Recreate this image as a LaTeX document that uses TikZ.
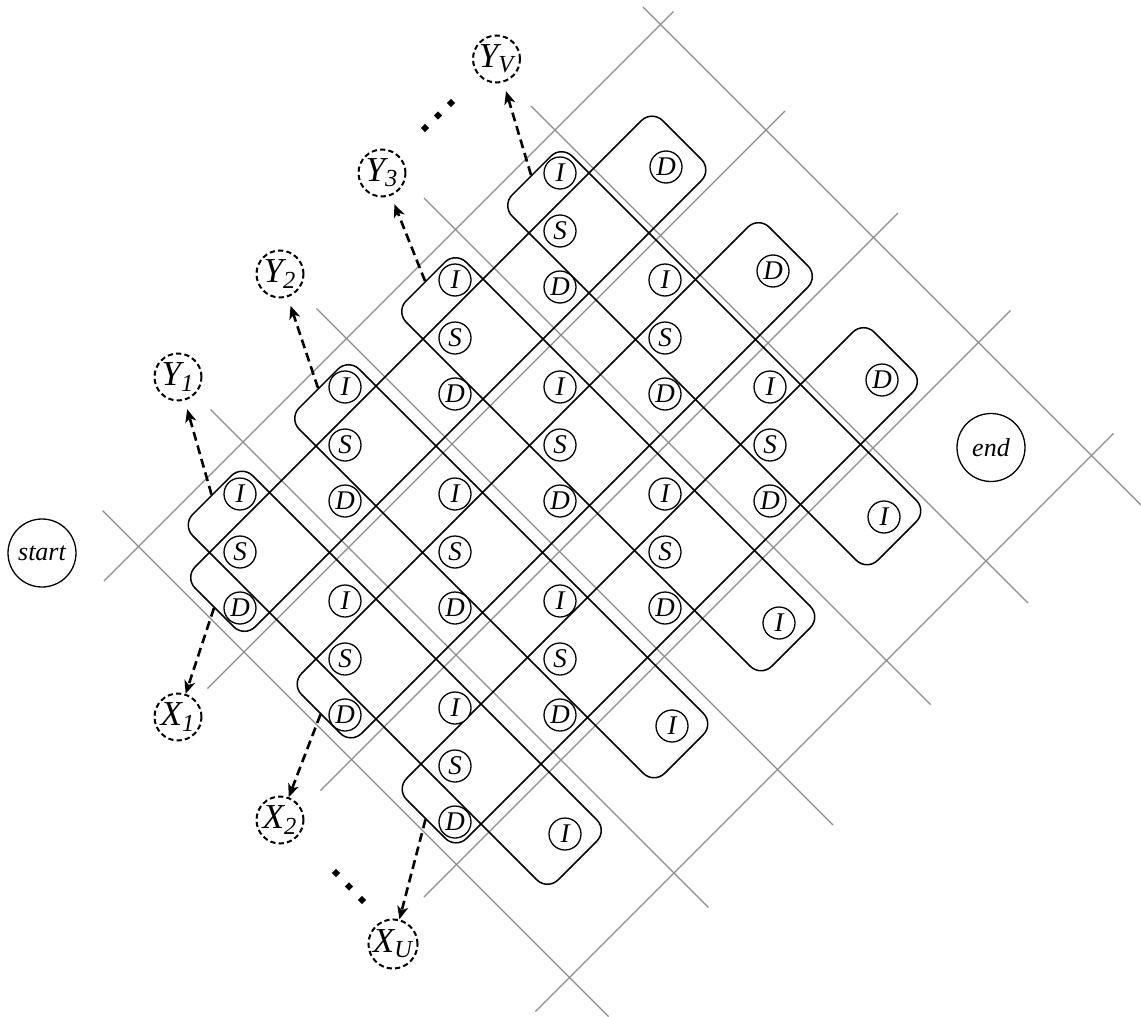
\documentclass[tikz,border=0pt]{standalone}
\usepackage{fontspec}
\setmainfont{Liberation Serif}
\usetikzlibrary{arrows.meta,shapes.geometric}
\begin{document}
\begin{tikzpicture}[x=0.5pt,y=-0.5pt,
  gridline/.style={draw=black!45,line width=0.6pt},
  st/.style={circle,draw,fill=white,line width=0.65pt,minimum size=16pt,inner sep=0pt,font=\fontsize{13.5}{13.5}\selectfont\itshape},
  term/.style={circle,draw,fill=white,line width=0.65pt,minimum size=34pt,inner sep=0pt,font=\fontsize{13}{13}\selectfont\itshape},
  lab/.style={circle,draw,line width=1pt,dash pattern=on 2.6pt off 1.6pt,minimum size=23.5pt,inner sep=0pt,font=\fontsize{17.5}{17.5}\selectfont\itshape},
  grp/.style={draw,rounded corners=7.5pt,line width=0.75pt,minimum height=42.4pt,inner sep=0pt},
  ygrp/.style={grp,minimum width=258.4pt,rotate=-45},
  xgrp/.style={grp,minimum width=330.6pt,rotate=45},
  link/.style={line width=1.3pt,dash pattern=on 4.5pt off 2.5pt,-{Stealth[length=6.5pt,width=5.5pt,inset=1.8pt]}},
  dotd/.style={diamond,fill,inner sep=0pt,minimum size=4.2pt}
]
\useasboundingbox (0,0) rectangle (1141,1017);

% grid lines (down-right)
\draw[gridline] (102.5,510.5) -- (608.5,1016.5);
\draw[gridline] (210.5,409.5) -- (708.5,907.5);
\draw[gridline] (316.5,308.5) -- (833,825);
\draw[gridline] (424,198) -- (930.5,704.5);
\draw[gridline] (531,106) -- (1028,603);
\draw[gridline] (643,7) -- (1141,505);
% grid lines (up-right)
\draw[gridline] (104,581) -- (673.5,11.5);
\draw[gridline] (207.5,688.5) -- (785,111);
\draw[gridline] (320.5,790.5) -- (898,213);
\draw[gridline] (424,897) -- (1010.5,310.5);
\draw[gridline] (535.5,1011.5) -- (1113.5,433.5);

% group rectangles
\node[ygrp] (ry1) at (394.75,677.75) {};
\node[ygrp] (ry2) at (501.25,571.25) {};
\node[ygrp] (ry3) at (608.25,464.25) {};
\node[ygrp] (ryv) at (714.25,358.25) {};
\node[xgrp] (rx1) at (448.25,373.75) {};
\node[xgrp] (rx2) at (554.75,480.25) {};
\node[xgrp] (rxu) at (659.75,585.25) {};

% states
\node[st] (i11) at (240,494) {I};
\node[st] (s11) at (240,552) {S};
\node[st] (d11) at (240,608) {D};
\node[st] (i12) at (345,387) {I};
\node[st] (s12) at (345,445) {S};
\node[st] (d12) at (345,501) {D};
\node[st] (i13) at (455,280) {I};
\node[st] (s13) at (455,338) {S};
\node[st] (d13) at (455,394) {D};
\node[st] (i14) at (560,173) {I};
\node[st] (s14) at (560,231) {S};
\node[st] (d14) at (560,287) {D};

\node[st] (i21) at (345,601) {I};
\node[st] (s21) at (345,659) {S};
\node[st] (d21) at (345,715) {D};
\node[st] (i22) at (455,494) {I};
\node[st] (s22) at (455,552) {S};
\node[st] (d22) at (455,608) {D};
\node[st] (i23) at (560,387) {I};
\node[st] (s23) at (560,445) {S};
\node[st] (d23) at (560,501) {D};
\node[st] (i24) at (665,280) {I};
\node[st] (s24) at (665,338) {S};
\node[st] (d24) at (665,394) {D};

\node[st] (i31) at (455,708) {I};
\node[st] (s31) at (455,766) {S};
\node[st] (d31) at (455,822) {D};
\node[st] (i32) at (560,601) {I};
\node[st] (s32) at (560,659) {S};
\node[st] (d32) at (560,715) {D};
\node[st] (i33) at (665,494) {I};
\node[st] (s33) at (665,552) {S};
\node[st] (d33) at (665,608) {D};
\node[st] (i34) at (770,387) {I};
\node[st] (s34) at (770,445) {S};
\node[st] (d34) at (770,501) {D};

% end-of-group states
\node[st] (ie1) at (565,834) {I};
\node[st] (ie2) at (672,726) {I};
\node[st] (ie3) at (779,623) {I};
\node[st] (iev) at (884,517) {I};
\node[st] (de1) at (666,167) {D};
\node[st] (de2) at (773,271) {D};
\node[st] (deu) at (882,380) {D};

% terminals
\node[term] (start) at (42,553) {start};
\node[term] (end) at (991,447.5) {end};

% sequence labels
\node[lab] (y1) at (178,377) {Y\textsubscript{1}};
\node[lab] (y2) at (280,274) {Y\textsubscript{2}};
\node[lab] (y3) at (382,173) {Y\textsubscript{3}};
\node[lab] (yv) at (496.5,59) {Y\textsubscript{V}};
\node[lab] (x1) at (178,717) {X\textsubscript{1}};
\node[lab] (x2) at (280,820) {X\textsubscript{2}};
\node[lab] (xu) at (393,944) {X\textsubscript{U}};

% connectors
\draw[link,shorten >=4.5pt] (ry1.west) -- (y1);
\draw[link,shorten >=4.5pt] (ry2.west) -- (y2);
\draw[link,shorten >=4.5pt] (ry3.west) -- (y3);
\draw[link,shorten >=4.5pt] (ryv.west) -- (yv);
\draw[link] (rx1.west) -- (x1);
\draw[link] (rx2.west) -- (x2);
\draw[link] (rxu.west) -- (xu);

% ellipsis dots
\node[dotd] (ya) at (425,128) {};
\node[dotd] (yb) at (438,115.5) {};
\node[dotd] (yc) at (451,103) {};
\node[dotd] (xa) at (336,873) {};
\node[dotd] (xb) at (349,886.5) {};
\node[dotd] (xc) at (362,900) {};
\end{tikzpicture}
\end{document}
